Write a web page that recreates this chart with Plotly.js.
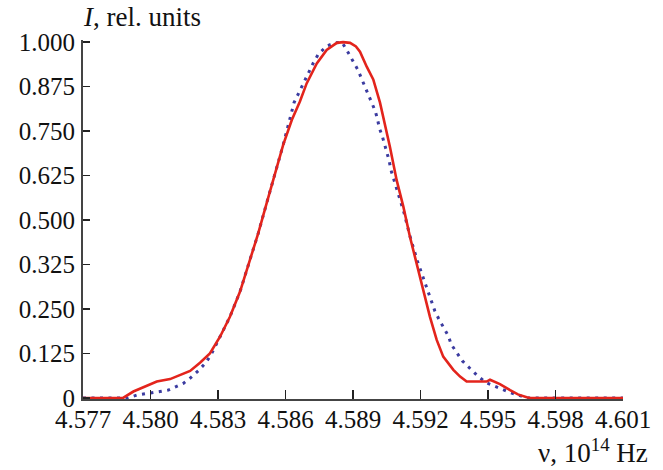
<!DOCTYPE html>
<html>
<head>
<meta charset="utf-8">
<script src="https://cdn.plot.ly/plotly-3.0.1.min.js"></script>
<style>html,body{margin:0;padding:0;background:#fff;}#chart{width:663px;height:470px;}</style>
</head>
<body>
<div id="chart"></div>
<script>
// Measured spectrum (red, solid)
const measuredFreq = [4.5770, 4.57878, 4.57924, 4.57968, 4.58028, 4.58087, 4.58131, 4.58176, 4.58220, 4.58264,
  4.58309, 4.58353, 4.58398, 4.58442, 4.58479, 4.58516, 4.58553, 4.58590, 4.58628, 4.58664,
  4.58694, 4.58739, 4.58783, 4.58828, 4.58856, 4.58887, 4.58913, 4.58931, 4.58961, 4.58990,
  4.59020, 4.59035, 4.59064, 4.59094, 4.59124, 4.59153, 4.59183, 4.59212, 4.59242, 4.59272,
  4.59301, 4.59346, 4.59376, 4.59405, 4.59494, 4.59509, 4.59531, 4.59553, 4.59598, 4.59633,
  4.59672, 4.59687, 4.6010];
const measuredI = [0, 0, 0.018, 0.030, 0.046, 0.053, 0.065, 0.076, 0.099, 0.125,
  0.172, 0.228, 0.299, 0.388, 0.463, 0.547, 0.631, 0.712, 0.781, 0.833,
  0.884, 0.940, 0.978, 0.998, 1.000, 0.998, 0.988, 0.973, 0.931, 0.895,
  0.830, 0.790, 0.706, 0.612, 0.537, 0.453, 0.378, 0.303, 0.228, 0.163,
  0.116, 0.079, 0.060, 0.046, 0.046, 0.051, 0.046, 0.039, 0.022, 0.010,
  0.002, 0, 0];

// Model spectrum (blue, dotted)
const modelFreq = [4.5770, 4.57900, 4.57939, 4.57976, 4.58042, 4.58079, 4.58109, 4.58146, 4.58179, 4.58212,
  4.58247, 4.58272, 4.58309, 4.58353, 4.58398, 4.58442, 4.58479, 4.58516, 4.58553, 4.58590,
  4.58638, 4.58687, 4.58724, 4.58746, 4.58783, 4.58820, 4.58851, 4.58879, 4.58901, 4.58921,
  4.58937, 4.58953, 4.58968, 4.58986, 4.58999, 4.59009, 4.59017, 4.59030, 4.59040, 4.59052,
  4.59061, 4.59068, 4.59079, 4.59090, 4.59104, 4.59116, 4.59127, 4.59141, 4.59153, 4.59186,
  4.59212, 4.59228, 4.59238, 4.59254, 4.59264, 4.59282, 4.59301, 4.59324, 4.59336, 4.59361,
  4.59386, 4.59423, 4.59454, 4.59491, 4.59524, 4.59561, 4.59598, 4.59635, 4.59672, 4.6010];
const modelI = [0, 0, 0.008, 0.011, 0.018, 0.022, 0.030, 0.041, 0.057, 0.076,
  0.100, 0.125, 0.172, 0.228, 0.299, 0.388, 0.463, 0.547, 0.631, 0.712,
  0.830, 0.895, 0.942, 0.966, 0.989, 0.998, 1.000, 0.970, 0.947, 0.923,
  0.899, 0.876, 0.853, 0.829, 0.806, 0.783, 0.759, 0.736, 0.713, 0.689,
  0.666, 0.642, 0.619, 0.596, 0.572, 0.549, 0.520, 0.485, 0.455, 0.385,
  0.338, 0.315, 0.291, 0.268, 0.244, 0.221, 0.198, 0.174, 0.151, 0.127,
  0.104, 0.081, 0.062, 0.043, 0.034, 0.024, 0.015, 0.008, 0, 0];

const xTickVals = [4.577, 4.580, 4.583, 4.586, 4.589, 4.592, 4.595, 4.598, 4.601];
const xTickText = ['4.577', '4.580', '4.583', '4.586', '4.589', '4.592', '4.595', '4.598', '4.601'];
const yTickVals = [0, 0.125, 0.25, 0.375, 0.5, 0.625, 0.75, 0.875, 1.0];
const yTickText = ['0', '0.125', '0.250', '0.325', '0.500', '0.625', '0.750', '0.875', '1.000'];

const serif = 'Liberation Serif, Times New Roman, serif';

const traces = [
  {
    x: modelFreq, y: modelI, type: 'scatter', mode: 'lines',
    line: {color: '#3b3ba0', width: 3, dash: '3px,5.5px'},
    hoverinfo: 'skip', showlegend: false
  },
  {
    x: measuredFreq, y: measuredI, type: 'scatter', mode: 'lines',
    line: {color: '#e3241c', width: 2.6},
    hoverinfo: 'skip', showlegend: false
  }
];

const layout = {
  width: 663, height: 470,
  margin: {l: 83, r: 40, t: 40, b: 71, pad: 0},
  paper_bgcolor: '#ffffff', plot_bgcolor: '#ffffff',
  showlegend: false,
  font: {family: serif, size: 25, color: '#111'},
  xaxis: {
    range: [4.577, 4.601],
    tickvals: xTickVals, ticktext: xTickText,
    ticks: 'inside', ticklen: 9, tickwidth: 1.5, tickcolor: '#222',
    showline: true, linecolor: '#444', linewidth: 2,
    showgrid: false, zeroline: false,
    tickfont: {family: serif, size: 25, color: '#111'},
    ticklabelstandoff: -3
  },
  yaxis: {
    range: [-0.003, 1.006],
    tickvals: yTickVals, ticktext: yTickText,
    ticks: 'inside', ticklen: 7, tickwidth: 1.5, tickcolor: '#222',
    showline: true, linecolor: '#444', linewidth: 2,
    showgrid: false, zeroline: false,
    tickfont: {family: serif, size: 25, color: '#111'},
    ticklabelstandoff: 1
  },
  annotations: [
    {
      text: '<i>I</i>, rel. units', xref: 'paper', yref: 'paper',
      x: 0, y: 1, xanchor: 'left', yanchor: 'bottom', xshift: -2, yshift: 6,
      showarrow: false, font: {family: serif, size: 27, color: '#111'}
    },
    {
      text: 'ν, 10<sup>14</sup> Hz', xref: 'paper', yref: 'paper',
      x: 1, y: 0, xanchor: 'right', yanchor: 'top', xshift: 27, yshift: -33,
      showarrow: false, font: {family: serif, size: 27, color: '#111'}
    }
  ]
};

Plotly.newPlot('chart', traces, layout, {staticPlot: true, displayModeBar: false});
</script>
</body>
</html>
